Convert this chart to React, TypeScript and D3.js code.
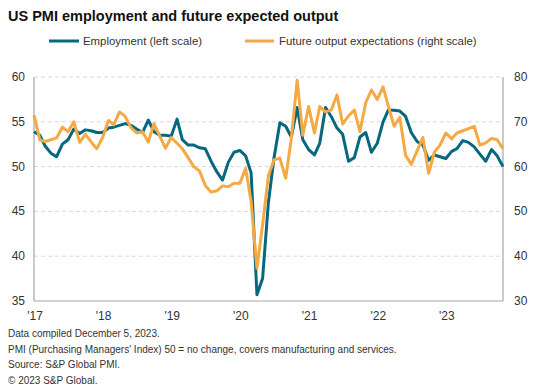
import React from "react";
import * as d3 from "d3";

const months: Date[] = d3.timeMonths(new Date(2017, 0, 1), new Date(2023, 11, 1));

const employment = [
  53.9, 53.5, 52.3, 51.5, 51.1, 52.5, 53.0, 54.2, 53.7, 54.1, 54.0, 53.8,
  53.8, 54.3, 54.4, 54.6, 54.8, 54.6, 54.2, 53.8, 55.2, 53.9, 53.5, 53.5,
  53.4, 55.3, 53.0, 52.4, 52.4, 52.1, 52.0, 50.6, 49.4, 48.5, 50.5, 51.6,
  51.8, 51.2, 49.3, 35.7, 37.5, 46.0, 51.0, 54.9, 54.5, 53.3, 56.6, 53.0,
  51.9, 51.3, 52.6, 56.6, 55.6, 54.3, 53.6, 50.6, 51.0, 53.3, 53.8, 51.6,
  52.6, 55.0, 56.3, 56.3, 56.2, 55.6, 53.8, 52.8, 52.4, 50.7, 51.3, 51.1,
  50.9, 51.7, 52.0, 52.9, 52.7, 52.2, 51.4, 50.6, 51.9, 51.2, 50.0,
];

const futureOutput = [
  71.5, 66.0, 65.6, 66.0, 66.4, 68.8, 67.8, 70.0, 65.4, 67.2, 65.5, 64.0,
  66.5, 70.3, 69.3, 72.2, 71.2, 68.7, 67.5, 67.8, 65.5, 69.6, 66.8, 64.1,
  66.5, 65.2, 64.0, 62.0, 60.0, 59.0, 55.8, 54.3, 54.6, 55.7, 55.5, 56.3,
  56.3, 59.6, 52.2, 37.3, 47.0, 58.0, 61.5, 61.9, 57.4, 66.3, 79.3, 67.0,
  73.4, 67.5, 73.4, 72.2, 72.6, 76.0, 69.5, 71.3, 72.6, 67.8, 74.3, 77.1,
  75.0, 77.8, 73.5, 69.0, 71.0, 62.5, 60.5, 63.5, 66.5, 58.5, 63.2, 64.8,
  67.5, 66.2, 67.5, 68.0, 68.5, 69.0, 64.8, 65.3, 66.3, 66.0, 64.0,
];

const leftTicks = [35, 40, 45, 50, 55, 60];
const rightTicks = [30, 40, 50, 60, 70, 80];
const yearTicks = [2017, 2018, 2019, 2020, 2021, 2022, 2023];

const title = "US PMI employment and future expected output";
const legendLabels = ["Employment (left scale)", "Future output expectations (right scale)"];
const footnotes = [
  "Data compiled December 5, 2023.",
  "PMI (Purchasing Managers' Index) 50 =  no change, covers manufacturing and services.",
  "Source: S&P Global PMI.",
  "\u00A9 2023 S&P Global.",
];

const TEAL = "#05687f";
const ORANGE = "#f5a945";
const FONT = "'Liberation Sans', Arial, sans-serif";

export default function App() {
  const W = 536, H = 392;
  const left = 34, right = 503, top = 77, bottom = 301;

  const x = d3.scaleTime().domain([months[0], months[months.length - 1]]).range([left, right]);
  const yL = d3.scaleLinear().domain([35, 60]).range([bottom, top]);
  const yR = d3.scaleLinear().domain([30, 80]).range([bottom, top]);

  const lineL = d3.line<number>().x((_, i) => x(months[i])).y((d) => yL(d));
  const lineR = d3.line<number>().x((_, i) => x(months[i])).y((d) => yR(d));

  return (
    <svg width={W} height={H} style={{ position: "absolute", left: 0, top: 0, background: "#fff" }} fontFamily={FONT}>
      <rect width={W} height={H} fill="#fff" />
      <text x={8} y={21} fontSize={14.5} fontWeight="bold" fill="#111">{title}</text>

      {/* legend */}
      <line x1={49} x2={79} y1={41} y2={41} stroke={TEAL} strokeWidth={3} />
      <text x={83} y={45} fontSize={11.4} fill="#333">{legendLabels[0]}</text>
      <line x1={245} x2={274} y1={41} y2={41} stroke={ORANGE} strokeWidth={3} />
      <text x={279} y={45} fontSize={11.4} fill="#333">{legendLabels[1]}</text>

      {/* gridlines */}
      {leftTicks.filter((t) => t !== 35).map((t) => (
        <line key={t} x1={left} x2={right} y1={yL(t)} y2={yL(t)} stroke="#d9d9d9" strokeWidth={1} strokeDasharray="4,3" />
      ))}

      {/* axes */}
      <line x1={left} x2={left} y1={top} y2={bottom} stroke="#a6a6a6" strokeWidth={1.2} />
      <line x1={right} x2={right} y1={top} y2={bottom} stroke="#a6a6a6" strokeWidth={1.2} />
      <line x1={left} x2={right} y1={bottom} y2={bottom} stroke="#a6a6a6" strokeWidth={1.2} />

      {leftTicks.map((t) => (
        <text key={t} x={25} y={yL(t) + 4} fontSize={12} textAnchor="end" fill="#333">{t}</text>
      ))}
      {rightTicks.map((t) => (
        <text key={t} x={514} y={yR(t) + 4} fontSize={12} textAnchor="start" fill="#333">{t}</text>
      ))}
      {yearTicks.map((yr) => (
        <text key={yr} x={x(new Date(yr, 0, 1)) + 1} y={320} fontSize={12} textAnchor="middle" fill="#333">
          {"'" + String(yr).slice(2)}
        </text>
      ))}

      <path d={lineL(employment) || ""} fill="none" stroke={TEAL} strokeWidth={3} strokeLinejoin="round" />
      <path d={lineR(futureOutput) || ""} fill="none" stroke={ORANGE} strokeWidth={3} strokeLinejoin="round" />

      {footnotes.map((f, i) => (
        <text key={i} x={8} y={337 + i * 15.7} fontSize={10} fill="#333">{f}</text>
      ))}
    </svg>
  );
}
